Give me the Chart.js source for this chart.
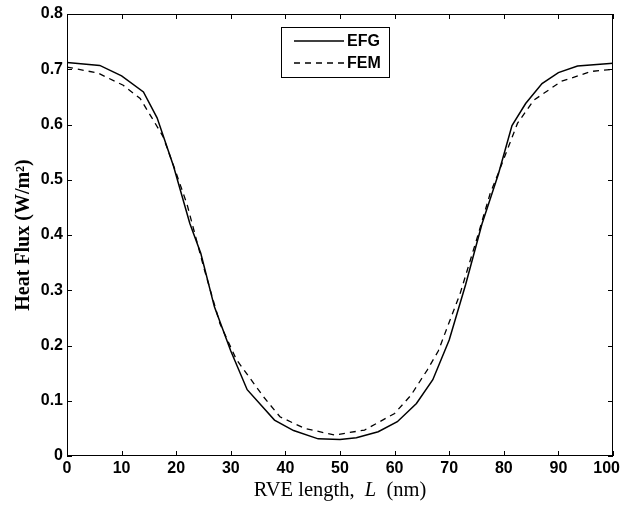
<!DOCTYPE html>
<html>
<head>
<meta charset="utf-8">
<script src="https://cdn.jsdelivr.net/npm/chart.js@4.4.1/dist/chart.umd.min.js"></script>
<style>
    html, body { margin: 0; padding: 0; background: #fff; }
    #wrap { width: 621px; height: 514px; }
</style>
</head>
<body>
<div id="wrap"><canvas id="chart" width="621" height="514"></canvas></div>
<script>
// ─── Data ─────────────────────────────────────────────────────────────────────
const efgX = [0, 6, 10, 14, 16.5, 19.5, 22.5, 24.5, 27, 30, 33, 38, 41.5, 46, 50, 53, 57, 60.5, 64, 67, 70, 73, 76, 79, 81.5, 84, 87, 90, 93.5, 100];
const efgY = [0.712, 0.707, 0.688, 0.659, 0.612, 0.525, 0.421, 0.367, 0.27, 0.19, 0.12, 0.065, 0.046, 0.031, 0.030, 0.033, 0.044, 0.062, 0.095, 0.138, 0.21, 0.31, 0.42, 0.51, 0.598, 0.638, 0.674, 0.694, 0.706, 0.711];

const femX = [0, 5.7, 10.3, 13.4, 15.8, 17.6, 20, 22, 25, 28, 31, 36, 39, 43.5, 49, 54.5, 60, 63, 66, 68, 72, 75, 77.5, 79, 82.5, 85.5, 90.5, 96, 100];
const femY = [0.704, 0.693, 0.671, 0.647, 0.608, 0.578, 0.512, 0.455, 0.343, 0.24, 0.175, 0.107, 0.071, 0.05, 0.038, 0.047, 0.077, 0.11, 0.156, 0.19, 0.294, 0.391, 0.475, 0.512, 0.602, 0.644, 0.678, 0.696, 0.70];

const seriesLabels = ['EFG', 'FEM'];
const xTicks = [0, 10, 20, 30, 40, 50, 60, 70, 80, 90, 100];
const yTicks = [0, 0.1, 0.2, 0.3, 0.4, 0.5, 0.6, 0.7, 0.8];

const toPoints = (xs, ys) => xs.map((x, i) => ({ x, y: ys[i] }));

const SERIF = '"Liberation Serif", "Times New Roman", serif';
const SANS = '"Liberation Sans", Arial, sans-serif';

// ─── Box, inward ticks, x labels, legend and x title ──────────────────────────
const matlabFrame = {
    id: 'matlabFrame',
    afterDraw(chart) {
        const { ctx, chartArea: a, scales: { x, y } } = chart;
        ctx.save();
        ctx.strokeStyle = '#000';
        ctx.lineWidth = 1;
        ctx.strokeRect(a.left + 0.5, a.top + 0.5, a.right - a.left - 1, a.bottom - a.top - 1);

        const tl = 5;
        ctx.beginPath();
        xTicks.forEach(v => {
            const px = Math.round(x.getPixelForValue(v)) + 0.5;
            ctx.moveTo(px, a.bottom); ctx.lineTo(px, a.bottom - tl);
            ctx.moveTo(px, a.top); ctx.lineTo(px, a.top + tl);
        });
        yTicks.forEach(v => {
            const py = Math.round(y.getPixelForValue(v)) + 0.5;
            ctx.moveTo(a.left, py); ctx.lineTo(a.left + tl, py);
            ctx.moveTo(a.right, py); ctx.lineTo(a.right - tl, py);
        });
        ctx.stroke();

        // x tick labels, last one kept inside the canvas
        ctx.fillStyle = '#000';
        ctx.font = 'bold 16px ' + SANS;
        ctx.textAlign = 'center';
        ctx.textBaseline = 'middle';
        xTicks.forEach(v => {
            const s = String(v);
            const w = ctx.measureText(s).width;
            const px = Math.min(x.getPixelForValue(v), chart.width - 1 - w / 2);
            ctx.fillText(s, px, a.bottom + 13);
        });

        // legend box
        const bx = 281, by = 27, bw = 108, bh = 50;
        ctx.fillStyle = '#fff';
        ctx.fillRect(bx, by, bw, bh);
        ctx.strokeRect(bx + 0.5, by + 0.5, bw, bh);
        chart.data.datasets.forEach((ds, i) => {
            const ly = by + 14 + i * 22;
            ctx.beginPath();
            ctx.lineWidth = ds.borderWidth;
            ctx.setLineDash(ds.borderDash || []);
            ctx.moveTo(bx + 13, ly); ctx.lineTo(bx + 63, ly);
            ctx.stroke();
            ctx.setLineDash([]);
            ctx.fillStyle = '#000';
            ctx.font = 'bold 16px ' + SANS;
            ctx.textAlign = 'left';
            ctx.textBaseline = 'middle';
            ctx.fillText(ds.label, bx + 66, ly + 1);
        });

        // x axis title with italic L
        const parts = [
            ['RVE length,  ', '20.5px ' + SERIF],
            ['L', 'italic 20.5px ' + SERIF],
            ['  (nm)', '20.5px ' + SERIF]
        ];
        let total = 0;
        parts.forEach(p => { ctx.font = p[1]; total += ctx.measureText(p[0]).width; });
        let cx = (a.left + a.right) / 2 - total / 2;
        ctx.textBaseline = 'middle';
        ctx.textAlign = 'left';
        parts.forEach(p => {
            ctx.font = p[1];
            ctx.fillText(p[0], cx, 491);
            cx += ctx.measureText(p[0]).width;
        });
        ctx.restore();
    }
};

const tickFont = { family: SANS, size: 16, weight: 'bold' };

new Chart(document.getElementById('chart').getContext('2d'), {
    type: 'scatter',
    data: {
        datasets: [
            {
                label: seriesLabels[0],
                data: toPoints(efgX, efgY),
                showLine: true,
                borderColor: '#000',
                borderWidth: 1.5,
                pointRadius: 0,
                tension: 0
            },
            {
                label: seriesLabels[1],
                data: toPoints(femX, femY),
                showLine: true,
                borderColor: '#000',
                borderWidth: 1.3,
                borderDash: [6, 5],
                pointRadius: 0,
                tension: 0
            }
        ]
    },
    options: {
        responsive: false,
        animation: false,
        layout: { padding: { left: 0, right: 8, top: 14, bottom: 0 } },
        plugins: {
            legend: { display: false },
            tooltip: { enabled: false }
        },
        scales: {
            x: {
                type: 'linear',
                min: 0, max: 100,
                afterBuildTicks: s => { s.ticks = xTicks.map(v => ({ value: v })); },
                afterFit: s => { s.height = 58; s.paddingLeft = 0; s.paddingRight = 0; },
                grid: { display: false, drawTicks: false },
                border: { display: false },
                ticks: { display: false },
                title: { display: false }
            },
            y: {
                min: 0, max: 0.8,
                afterBuildTicks: s => { s.ticks = yTicks.map(v => ({ value: v })); },
                afterFit: s => { s.width = 67; s.paddingTop = 0; s.paddingBottom = 0; },
                grid: { display: false, drawTicks: false },
                border: { display: false },
                ticks: {
                    color: '#000', font: tickFont, padding: 4,
                    callback: v => v === 0 ? '0' : v.toFixed(1)
                },
                title: {
                    display: true,
                    text: 'Heat Flux (W/m²)',
                    color: '#000',
                    font: { family: SERIF, size: 20, weight: 'bold' },
                    padding: { top: 12, bottom: 0 }
                }
            }
        }
    },
    plugins: [matlabFrame]
});
</script>
</body>
</html>
